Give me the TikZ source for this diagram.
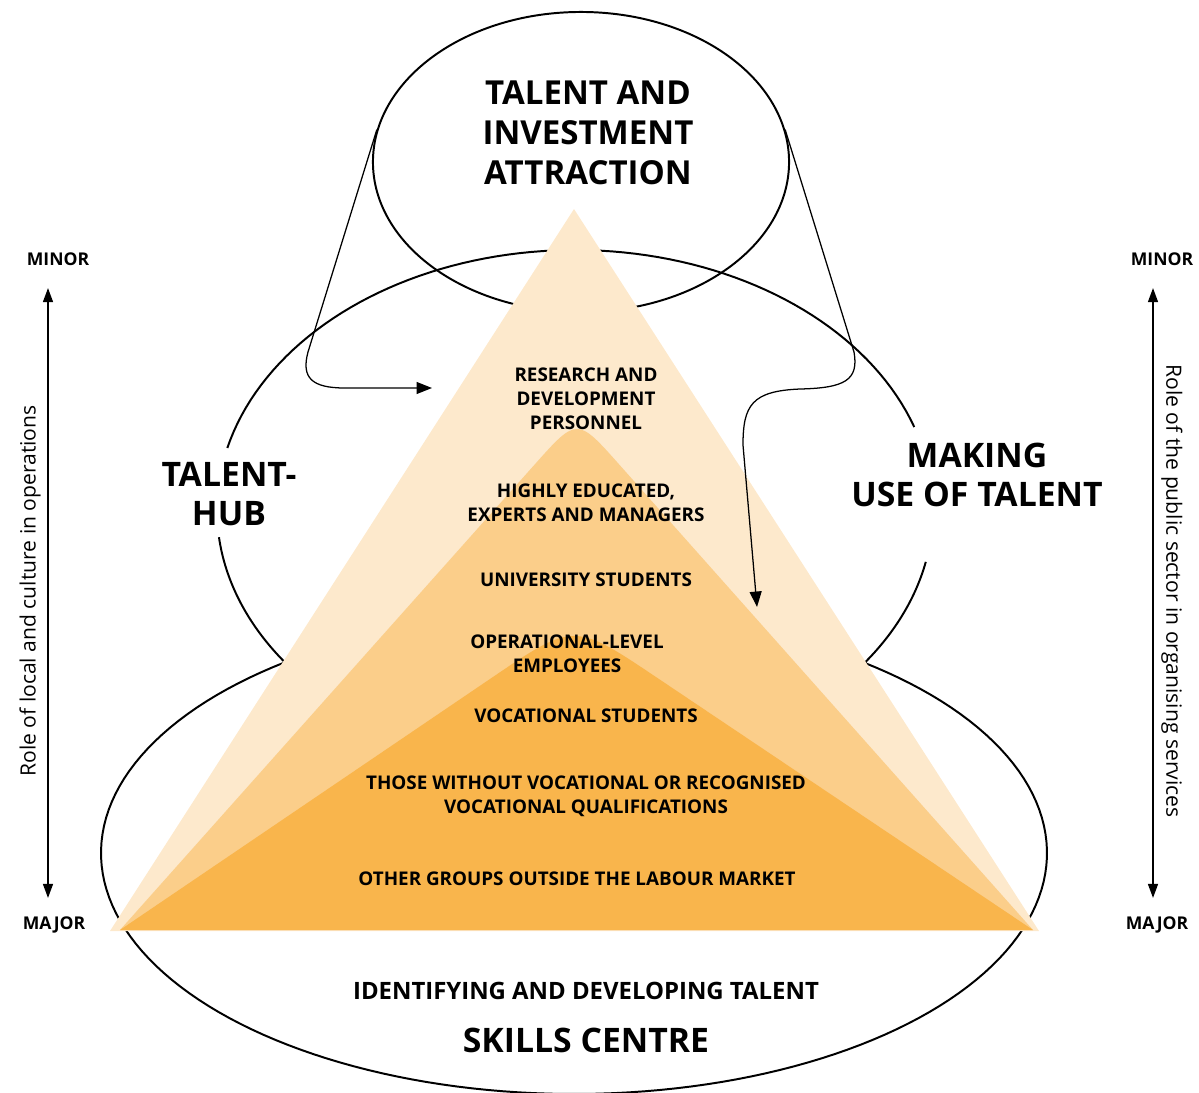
\documentclass[tikz,border=0pt]{standalone}
\usepackage{fontspec}
\setmainfont{Open Sans}
\usepackage{tikz}
\usetikzlibrary{shapes.geometric, %for the top ellipse
                calc, %for the rounded tops
                arrows.meta}
\definecolor{tierlight}{HTML}{FDE9CC}
\definecolor{tiermid}{HTML}{FBCE8A}
\definecolor{tierdark}{HTML}{F9B54C}

\begin{document}
\begin{tikzpicture}[x=0.025cm, y=-0.025cm,
                    outline/.style={line width=1.4pt},
                    flow/.style={-{Triangle[length=11pt,width=8.5pt]}, line width=0.9pt},
                    axis/.style={{Triangle[length=10pt,width=7pt]}-{Triangle[length=10pt,width=7pt]}, line width=1.3pt},
                    title/.style={font=\fontsize{23.5}{28.5}\selectfont\bfseries, align=center, inner sep=0},
                    role/.style={font=\fontsize{24}{27.7}\selectfont\bfseries, align=center, inner sep=0},
                    tier/.style={font=\fontsize{13.4}{17}\selectfont\bfseries, align=center, inner sep=0},
                    scalelbl/.style={font=\fontsize{12.5}{14}\selectfont\bfseries, inner sep=0},
                    scalenote/.style={font=\fontsize{15}{18}\selectfont, inner sep=0}
                    ]
        \useasboundingbox (0,0) rectangle (1199,1093);

        % outlines
        \node[draw, outline, ellipse, minimum width=10.4cm, minimum height=7.5cm, inner sep=0] (attract) at (581,162) {};
        \draw[outline] plot[domain=-166.2:-18.6, samples=80, variable=\t] ({575+358*cos(\t)},{510+260*sin(\t)});
        \draw[outline] plot[domain=11.5:35.8, samples=30, variable=\t] ({575+358*cos(\t)},{510+260*sin(\t)})
        -- plot[domain=-52.4:232.4, samples=150, variable=\t] ({574+473*cos(\t)},{853+241*sin(\t)})
        -- plot[domain=144.2:174, samples=30, variable=\t] ({575+358*cos(\t)},{510+260*sin(\t)});

        % pyramid
        \coordinate (midL) at (120,930);
        \coordinate (midTop) at (577,417);
        \coordinate (midR) at (1033,930);
        \coordinate (darkTop) at (574,622);
        \fill[tierlight] (110,931) -- (574,209) -- (1039,931) -- cycle;
        \fill[tiermid] (midL) -- ($(midTop)!1.6cm!(midL)$) .. controls (midTop) .. ($(midTop)!1.6cm!(midR)$) -- (midR) -- cycle;
        \fill[tierdark] (midL) -- ($(darkTop)!2.5cm!(midL)$) .. controls (darkTop) .. ($(darkTop)!2.5cm!(midR)$) -- (midR) -- cycle;

        % arrows out of the top ellipse
        \coordinate (hubTip) at (432,388);
        \coordinate (useTip) at (757,607);
        \draw[flow] (attract.171) -- (308,352) .. controls (301,378) and (312,388) .. (345,388) -- (hubTip);
        \draw[flow] (attract.9) -- (854,352) .. controls (859,380) and (845,388) .. (800,389)
        .. controls (752,391) and (743,405) .. (743,445) -- (useTip);

        % side scales
        \coordinate (localTop) at (48,288);
        \coordinate (localBot) at (48,898);
        \coordinate (publicTop) at (1153,288);
        \coordinate (publicBot) at (1153,898);
        \draw[axis] (localTop) -- (localBot);
        \draw[axis] (publicTop) -- (publicBot);

        % texts
        \node[title] (attractTxt) at (588,133) {TALENT AND\\INVESTMENT\\ATTRACTION};
        \node[role] (hubTxt) at (229,494) {TALENT-\\HUB};
        \node[role] (useTxt) at (977,475) {MAKING\\USE OF TALENT};
        \node[tier] (research) at (586,399) {RESEARCH AND\\DEVELOPMENT\\PERSONNEL};
        \node[tier] (experts) at (586,503) {HIGHLY EDUCATED,\\EXPERTS AND MANAGERS};
        \node[tier] (univ) at (586,580) {UNIVERSITY STUDENTS};
        \node[tier] (operat) at (567,654) {OPERATIONAL-LEVEL\\EMPLOYEES};
        \node[tier] (vocat) at (586,716) {VOCATIONAL STUDENTS};
        \node[tier] (noqual) at (586,796) {THOSE WITHOUT VOCATIONAL OR RECOGNISED\\VOCATIONAL QUALIFICATIONS};
        \node[tier] (outside) at (577,879) {OTHER GROUPS OUTSIDE THE LABOUR MARKET};
        \node[font=\fontsize{17}{20}\selectfont\bfseries, inner sep=0] (identTxt) at (586,991) {IDENTIFYING AND DEVELOPING TALENT};
        \node[role] (skillsTxt) at (586,1040) {SKILLS CENTRE};

        \node[scalelbl] (minorL) at (58,259) {MINOR};
        \node[scalelbl] (majorL) at (54,925) {MAJOR};
        \node[scalelbl] (minorR) at (1162,259) {MINOR};
        \node[scalelbl] (majorR) at (1157,925) {MAJOR};
        \node[scalenote, rotate=90] (localTxt) at (30,591) {Role of local and culture in operations};
        \node[scalenote, rotate=-90] (publicTxt) at (1172,591) {Role of the public sector in organising services};
    \end{tikzpicture}
\end{document}
